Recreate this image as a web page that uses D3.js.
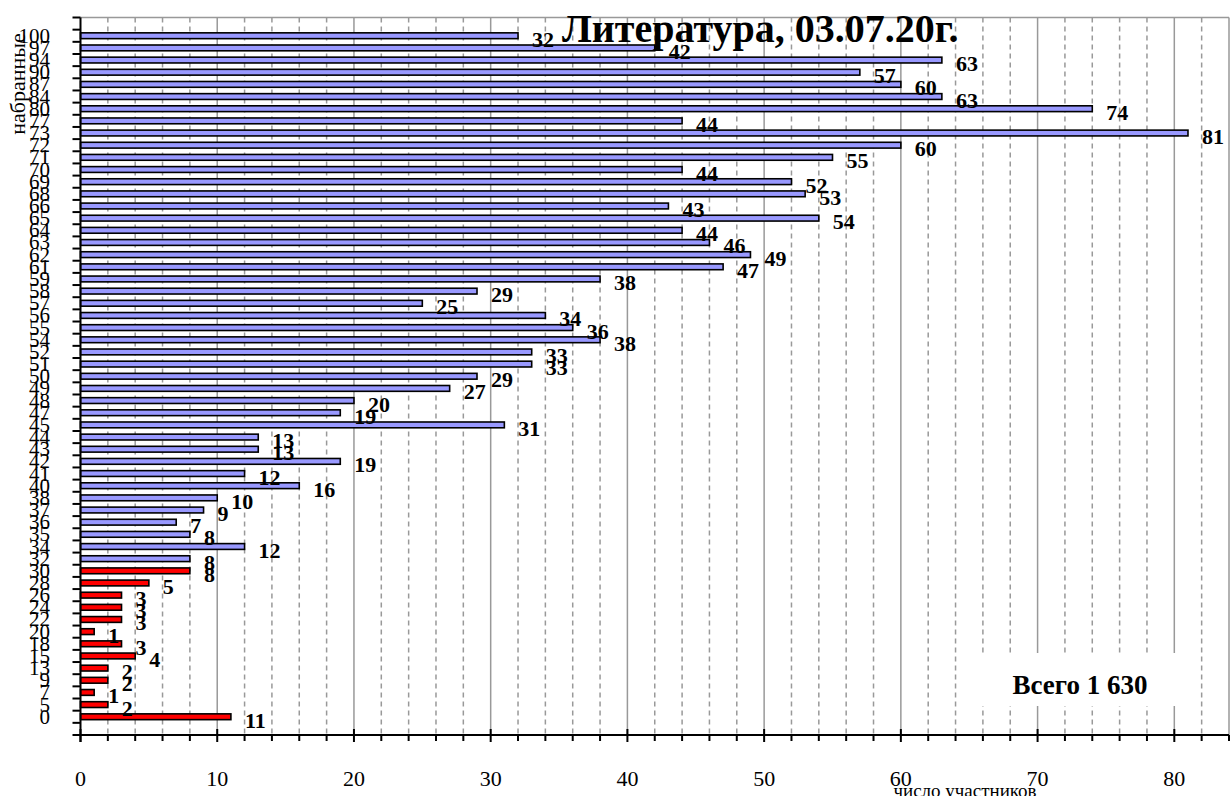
<!DOCTYPE html>
<html>
<head>
<meta charset="utf-8">
<script src="https://cdn.jsdelivr.net/npm/d3@7"></script>
<style>
  body { margin: 0; background: #fff; }
  text { font-family: "Liberation Serif", "DejaVu Serif", serif; }
</style>
</head>
<body>
<script>
// баллы (сверху вниз) и число участников
var scores = ["100","97","94","90","87","84","80","77","73","72","71","70","69","68","66","65","64","63","62","61",
              "59","58","57","56","55","54","52","51","50","49","48","47","45","44","43","42","41","40","38","37",
              "36","35","34","32","30","28","26","24","22","20","18","15","13","9","7","5","0"];
var counts = [32,42,63,57,60,63,74,44,81,60,55,44,52,53,43,54,44,46,49,47,
              38,29,25,34,36,38,33,33,29,27,20,19,31,13,13,19,12,16,10,9,
              7,8,12,8,8,5,3,3,3,1,3,4,2,2,1,2,11];
var xTicks = [0,10,20,30,40,50,60,70,80];
var minScore = 32; // ниже порога - красным
var title = "Литература, 03.07.20г.";
var total = "Всего 1 630";

var width = 1231, height = 796;
var pLeft = 80.5, pTop = 17.5, pRight = 1229, pBottom = 735;

var svg = d3.select("body").append("svg")
    .attr("width", width)
    .attr("height", height);

var x = d3.scaleLinear().domain([0, 84]).range([pLeft, pRight]);
var y = d3.scaleBand().domain(scores).range([pTop, pBottom]).paddingInner(0).paddingOuter(1);

// сетка
var grid = d3.range(2, 85, 2);
svg.append("g").selectAll("line")
    .data(grid)
    .enter().append("line")
    .attr("x1", function (d) { return x(d); })
    .attr("x2", function (d) { return x(d); })
    .attr("y1", pTop)
    .attr("y2", pBottom)
    .attr("stroke", "#999")
    .attr("stroke-width", 1.5)
    .attr("stroke-dasharray", function (d) { return (d % 10 == 0 || d == 84) ? null : "5,4"; });

svg.append("line")
    .attr("x1", pLeft).attr("x2", pRight)
    .attr("y1", pTop).attr("y2", pTop)
    .attr("stroke", "#999").attr("stroke-width", 1.5);

// столбики
var bh = 5.8;
svg.append("g").selectAll("rect")
    .data(counts)
    .enter().append("rect")
    .attr("x", x(0))
    .attr("y", function (d, i) { return y(scores[i]) + y.bandwidth() / 2 - bh / 2; })
    .attr("width", function (d) { return x(d) - x(0); })
    .attr("height", bh)
    .attr("fill", function (d, i) { return +scores[i] < minScore ? "#ff0000" : "#9999ff"; })
    .attr("stroke", "#000")
    .attr("stroke-width", 1.6);

// подписи значений
svg.append("g").selectAll("text")
    .data(counts)
    .enter().append("text")
    .attr("x", function (d) { return x(d) + 14; })
    .attr("y", function (d, i) { return y(scores[i]) + y.bandwidth() / 2 + 11; })
    .attr("font-size", 22)
    .attr("font-weight", "bold")
    .text(function (d) { return d; });

// ось Y
var ticksY = [pTop].concat(scores.map(function (s) { return y(s); }), [y(scores[scores.length - 1]) + y.step()]);
svg.append("g").selectAll("line")
    .data(ticksY)
    .enter().append("line")
    .attr("x1", pLeft - 8).attr("x2", pLeft)
    .attr("y1", function (d) { return d; })
    .attr("y2", function (d) { return d; })
    .attr("stroke", "#000").attr("stroke-width", 2);

svg.append("line")
    .attr("x1", pLeft).attr("x2", pLeft)
    .attr("y1", pTop).attr("y2", pBottom + 7)
    .attr("stroke", "#000").attr("stroke-width", 2);

svg.append("g").selectAll("text")
    .data(scores)
    .enter().append("text")
    .attr("x", 50)
    .attr("y", function (d) { return y(d) + y.bandwidth() / 2 + 7; })
    .attr("text-anchor", "end")
    .attr("font-size", 21)
    .text(function (d) { return d; });

svg.append("text")
    .attr("transform", "translate(25,84) rotate(-90)")
    .attr("text-anchor", "middle")
    .attr("font-size", 22)
    .text("набранные");

// ось X
svg.append("line")
    .attr("x1", pLeft - 8).attr("x2", pRight)
    .attr("y1", pBottom).attr("y2", pBottom)
    .attr("stroke", "#000").attr("stroke-width", 2);

svg.append("g").selectAll("line")
    .data(d3.range(0, 85, 2))
    .enter().append("line")
    .attr("x1", function (d) { return x(d); })
    .attr("x2", function (d) { return x(d); })
    .attr("y1", function (d) { return d % 10 == 0 ? pBottom - 6 : pBottom; })
    .attr("y2", function (d) { return d % 10 == 0 ? pBottom + 7 : pBottom + 6; })
    .attr("stroke", "#000").attr("stroke-width", 2);

svg.append("g").selectAll("text")
    .data(xTicks)
    .enter().append("text")
    .attr("x", function (d) { return x(d); })
    .attr("y", 786)
    .attr("text-anchor", "middle")
    .attr("font-size", 22)
    .text(function (d) { return d; });

svg.append("text")
    .attr("x", 965)
    .attr("y", 797)
    .attr("text-anchor", "middle")
    .attr("font-size", 19)
    .text("число участников");

// итого
svg.append("rect")
    .attr("x", 966).attr("y", 653)
    .attr("width", 225).attr("height", 53)
    .attr("fill", "#fff");
svg.append("text")
    .attr("x", 1080).attr("y", 694)
    .attr("text-anchor", "middle")
    .attr("font-size", 27)
    .attr("font-weight", "bold")
    .text(total);

// заголовок
svg.append("text")
    .attr("x", 562).attr("y", 42)
    .attr("font-size", 40)
    .attr("font-weight", "bold")
    .text(title);
</script>
</body>
</html>
